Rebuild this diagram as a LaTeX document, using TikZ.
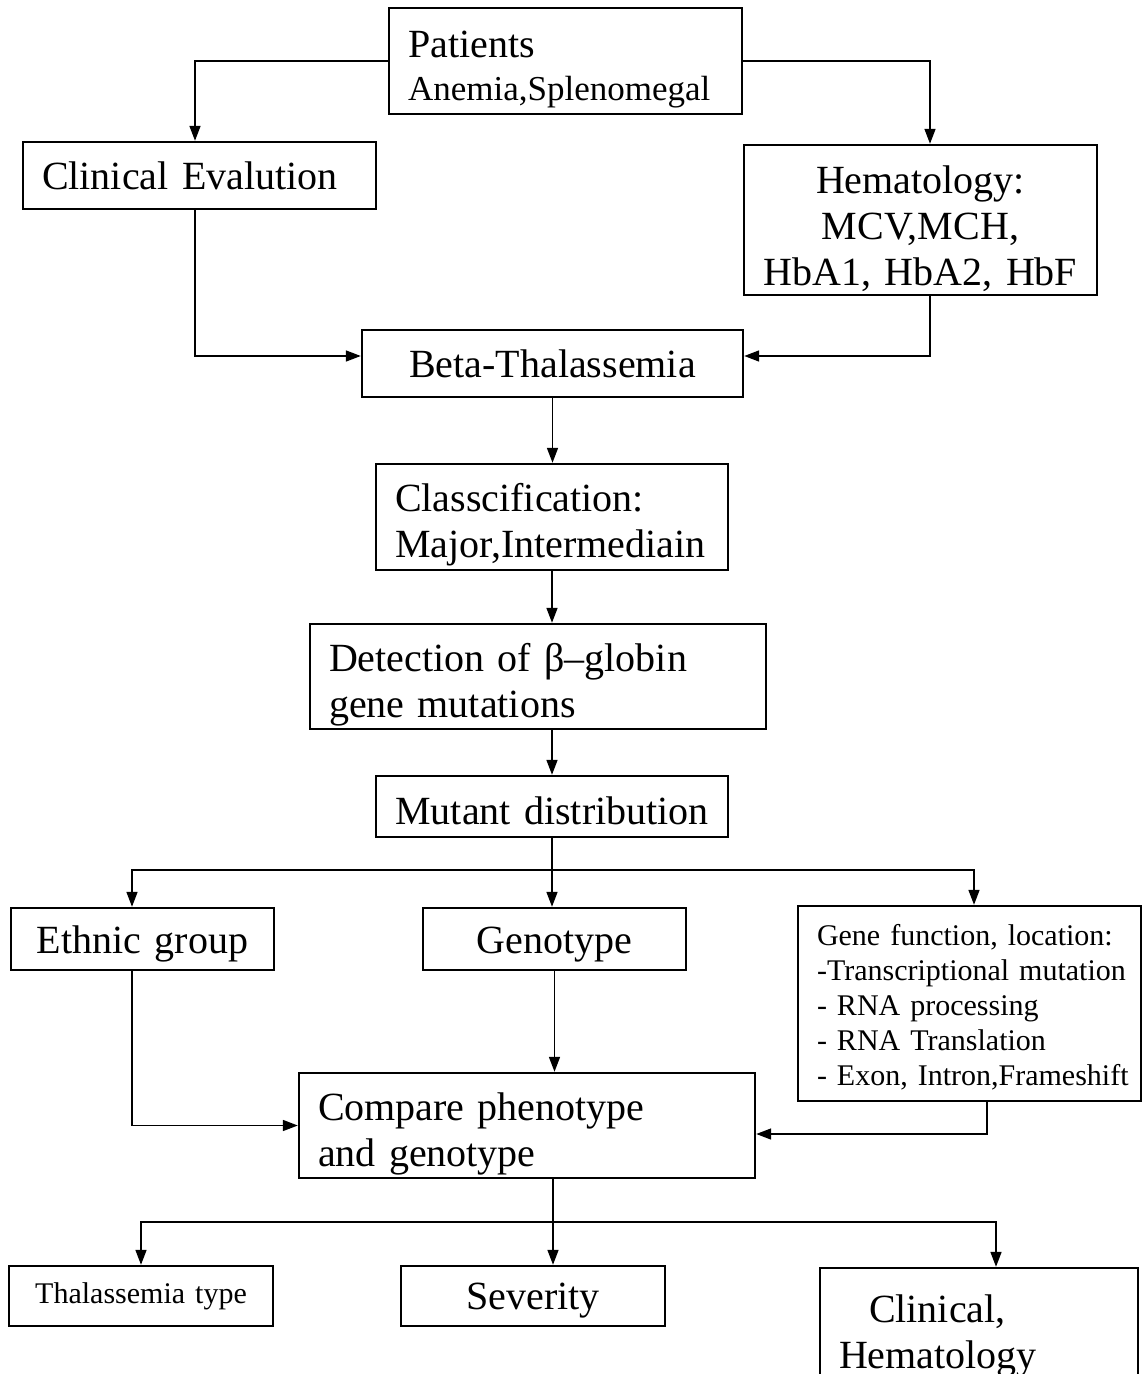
\documentclass[tikz,border=0pt]{standalone}
\usepackage{fontspec}
\setmainfont{Liberation Serif}
\usetikzlibrary{arrows.meta}
\newcommand{\topgap}[1]{\rule{0pt}{#1}}

\begin{document}
\begin{tikzpicture}[x=0.5pt,y=-0.5pt,
		arr/.style={-{Triangle[length=7.5pt,width=5.5pt]}, line width=0.8pt},
		lbox/.style={align=left},
		cbox/.style={align=center},
		smalltext/.style={font=\fontsize{15}{17.5}\selectfont}]
		\tikzstyle{every node}=[draw, rectangle, line width=1.2pt, inner xsep=9.5pt, inner ysep=0pt, font=\fontsize{20}{23}\selectfont]
		\useasboundingbox (0,0) rectangle (1142,1374);
		\node[lbox, text width=157.5pt, minimum height=53pt] (pat) at (565.5,61) {\topgap{22pt}Patients\\[-1.5pt]{\fontsize{17.5}{21.5}\selectfont Anemia,Splenomegal}};
		\node[lbox, text width=157.5pt, minimum height=33.5pt] (clin) at (199.5,175.5) {Clinical Evalution};
		\node[cbox, text width=157.5pt, minimum height=75pt] (hem) at (920.5,220) {\topgap{23pt}Hematology:\\MCV,MCH,\\HbA1,~HbA2,~HbF};
		\node[cbox, text width=171.5pt, minimum height=33.5pt] (beta) at (552.5,363.5) {Beta-Thalassemia};
		\node[lbox, text width=157pt, minimum height=53pt] (cls) at (552,517) {\topgap{22pt}Classcification:\\Major,Intermediain};
		\node[lbox, text width=209pt, minimum height=52.5pt] (det) at (538,676.5) {\topgap{22pt}Detection of β–globin\\gene mutations};
		\node[cbox, text width=157pt, minimum height=30.5pt] (mut) at (552,806.5) {\topgap{18pt}\mbox{Mutant distribution}};
		\node[cbox, text width=112.5pt, minimum height=31pt] (eth) at (142.5,939) {\topgap{19pt}Ethnic group};
		\node[cbox, text width=112.5pt, minimum height=31pt] (gen) at (554.5,939) {\topgap{19pt}Genotype};
		\node[lbox, smalltext, text width=152.5pt, minimum height=97.5pt] (gf) at (969.5,1003.5) {\topgap{14pt}\mbox{Gene function, location:}\\\mbox{-Transcriptional mutation}\\\mbox{- RNA processing}\\\mbox{- RNA Translation}\\\mbox{- Exon, Intron,Frameshift}};
		\node[lbox, text width=209pt, minimum height=52.5pt] (cmp) at (527,1125.5) {\topgap{22pt}Compare phenotype\\and genotype};
		\node[cbox, smalltext, text width=113pt, minimum height=30pt] (thal) at (141,1296) {Thalassemia type};
		\node[cbox, text width=113pt, minimum height=30pt] (sev) at (533,1296) {\topgap{18pt}Severity};
		\node[lbox, text width=140pt, minimum height=68pt] (ch) at (979,1336) {\hspace*{15pt}Clinical,\\Hematology};
		\coordinate (j1) at (552,870);
		\coordinate (j2) at (553,1222);
		\draw[arr] (pat.west) -| ([xshift=-2.25pt]clin.north);
		\draw[arr] (pat.east) -| ([xshift=4.75pt]hem.north);
		\draw[arr] ([xshift=-2.25pt]clin.south) |- ([yshift=3.75pt]beta.west);
		\draw[arr] ([xshift=4.75pt]hem.south) |- ([yshift=3.75pt]beta.east);
		\draw[arr] (beta.south) -- (beta.south |- cls.north);
		\draw[arr] (cls.south) -- (cls.south |- det.north);
		\draw[arr] (mut.north |- det.south) -- (mut.north);
		\draw[line width=0.8pt] (mut.south) -- (j1);
		\draw[arr] (j1) -| ([xshift=-5.25pt]eth.north);
		\draw[arr] (j1) -- (j1 |- gen.north);
		\draw[arr] (j1) -| ([xshift=2.25pt]gf.north);
		\draw[arr] ([xshift=-5.25pt]eth.south) |- (cmp.west);
		\draw[arr] (gen.south) -- (gen.south |- cmp.north);
		\draw[arr] ([xshift=8.75pt]gf.south) |- ([yshift=-4.25pt]cmp.east);
		\draw[line width=0.8pt] ([xshift=13pt]cmp.south) -- (j2);
		\draw[arr] (j2) -| (thal.north);
		\draw[arr] (j2) -- (j2 |- sev.north);
		\draw[arr] (j2) -| ([xshift=8.5pt]ch.north);
\end{tikzpicture}
\end{document}
